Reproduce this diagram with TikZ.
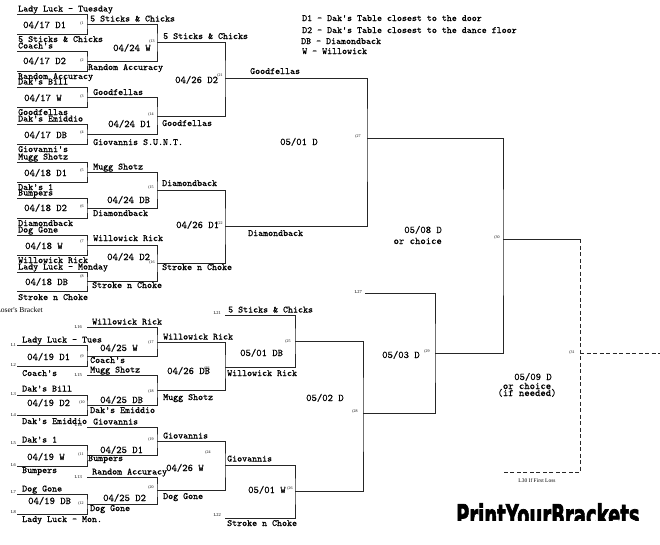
\documentclass[tikz,border=0pt]{standalone}
\usepackage{fontspec}
\setmonofont[FakeBold=0.3]{Latin Modern Mono}
\newfontfamily\smallserif{Liberation Serif}
\newfontfamily\logofont[BoldFont={DejaVu Sans Bold},BoldFeatures={FakeBold=2.5}]{DejaVu Sans}
\usetikzlibrary{calc}

\begin{document}
\begin{tikzpicture}[x=1pt,y=-1pt,
                    bline/.style={draw=black!85,line width=0.75pt},
                    dline/.style={bline,dash pattern=on 4pt off 2.5pt},
                    team/.style={anchor=base west,inner sep=0pt,font=\fontsize{9.5}{10}\ttfamily},
                    date/.style={anchor=base west,inner sep=0pt,font=\fontsize{10.2}{11}\ttfamily},
                    game/.style={inner sep=0pt,font=\fontsize{4}{4}\smallserif},
                    seed/.style={anchor=east,inner sep=0pt,font=\fontsize{4.5}{5}\smallserif}]

  \useasboundingbox (0,0) rectangle (660,544);
  \fill[white] (0,0) rectangle (660,544);
  \clip (0,0) rectangle (660,544);

  % winners bracket
  \coordinate (t1a) at (17,14);  \coordinate (t1b) at (17,34);  \coordinate (g1) at (87,24);
  \coordinate (t2a) at (17,51);  \coordinate (t2b) at (17,71);  \coordinate (g2) at (87,61);
  \coordinate (t3a) at (17,87);  \coordinate (t3b) at (17,107); \coordinate (g3) at (87,97);
  \coordinate (t4a) at (17,124); \coordinate (t4b) at (17,144); \coordinate (g4) at (87,134);
  \coordinate (t5a) at (17,162); \coordinate (t5b) at (17,182); \coordinate (g5) at (87,172);
  \coordinate (t6a) at (17,198); \coordinate (t6b) at (17,218); \coordinate (g6) at (87,208);
  \coordinate (t7a) at (17,235); \coordinate (t7b) at (17,255); \coordinate (g7) at (87,245);
  \coordinate (t8a) at (17,272); \coordinate (t8b) at (17,291); \coordinate (g8) at (87,281);
  \coordinate (g13) at (157,42);  \coordinate (g14) at (157,116);
  \coordinate (g15) at (157,190); \coordinate (g16) at (157,263);
  \coordinate (g21) at (225,78);  \coordinate (g22) at (225,226);
  \coordinate (g27) at (367,138);

  % losers bracket
  \coordinate (t9a) at (17,345);  \coordinate (t9b) at (17,366);  \coordinate (g9) at (87,356);
  \coordinate (t10a) at (17,395); \coordinate (t10b) at (17,415); \coordinate (g10) at (87,405);
  \coordinate (t11a) at (17,445); \coordinate (t11b) at (17,466); \coordinate (g11) at (87,455);
  \coordinate (t12a) at (17,494); \coordinate (t12b) at (17,514); \coordinate (g12) at (87,504);
  \coordinate (l16) at (87,327); \coordinate (l15) at (87,375);
  \coordinate (l14) at (87,427); \coordinate (l13) at (87,477);
  \coordinate (g17) at (157,342); \coordinate (g18) at (157,390);
  \coordinate (g19) at (157,441); \coordinate (g20) at (157,490);
  \coordinate (g23) at (225,367); \coordinate (g24) at (225,465);
  \coordinate (l21) at (225,315); \coordinate (l22) at (225,518);
  \coordinate (g25) at (295,341); \coordinate (g26) at (295,491);
  \coordinate (g28) at (363,413);
  \coordinate (l27) at (365,293);
  \coordinate (g29) at (435,353);
  \coordinate (g30) at (503,239);
  \coordinate (g31) at (580,353);
  \coordinate (l30) at (503,472);
  \coordinate (champ) at (660,353);

  \draw[bline] (t1a) -| (g1) |- (t1b);
  \draw[bline] (t2a) -| (g2) |- (t2b);
  \draw[bline] (t3a) -| (g3) |- (t3b);
  \draw[bline] (t4a) -| (g4) |- (t4b);
  \draw[bline] (t5a) -| (g5) |- (t5b);
  \draw[bline] (t6a) -| (g6) |- (t6b);
  \draw[bline] (t7a) -| (g7) |- (t7b);
  \draw[bline] (t8a) -| (g8) |- (t8b);
  \draw[bline] (g1) -| (g13) |- (g2);
  \draw[bline] (g3) -| (g14) |- (g4);
  \draw[bline] (g5) -| (g15) |- (g6);
  \draw[bline] (g7) -| (g16) |- (g8);
  \draw[bline] (g13) -| (g21) |- (g14);
  \draw[bline] (g15) -| (g22) |- (g16);
  \draw[bline] (g21) -| (g27) |- (g22);

  \draw[bline] (t9a) -| (g9) |- (t9b);
  \draw[bline] (t10a) -| (g10) |- (t10b);
  \draw[bline] (t11a) -| (g11) |- (t11b);
  \draw[bline] (t12a) -| (g12) |- (t12b);
  \draw[bline] (l16) -| (g17) |- (g9);
  \draw[bline] (l15) -| (g18) |- (g10);
  \draw[bline] (l14) -| (g19) |- (g11);
  \draw[bline] (l13) -| (g20) |- (g12);
  \draw[bline] (g17) -| (g23) |- (g18);
  \draw[bline] (g19) -| (g24) |- (g20);
  \draw[bline] (l21) -| (g25) |- (g23);
  \draw[bline] (g24) -| (g26) |- (l22);
  \draw[bline] (g25) -| (g28) |- (g26);
  \draw[bline] (l27) -| (g29) |- (g28);
  \draw[bline] (g27) -| (g30) |- (g29);
  \draw[bline] (g30) -- (g30 -| g31);
  \draw[dline] (g30 -| g31) |- (l30);
  \draw[dline] (g31) -- (champ);

  % legend
  \node[team] (leg1) at (302,21) {D1 - Dak's Table closest to the door};
  \node[team] (leg2) at (302,33) {D2 - Dak's Table closest to the dance floor};
  \node[team] (leg3) at (301,44) {DB - Diamondback};
  \node[team] (leg4) at (302,54) {W  - Willowick};

  % first round
  \node[team] (n1a) at (18,11.5) {Lady Luck - Tuesday};
  \node[team] (n1b) at (18,42) {5 Sticks \& Chicks};
  \node[team] (n2a) at (18,48.5) {Coach's};
  \node[team] (n2b) at (18,79) {Random Accuracy};
  \node[team] (n3a) at (18,84.5) {Dak's Bill};
  \node[team] (n3b) at (18,115) {Goodfellas};
  \node[team] (n4a) at (18,121.5) {Dak's Emiddio};
  \node[team] (n4b) at (18,152) {Giovanni's};
  \node[team] (n5a) at (18,159.5) {Mugg Shotz};
  \node[team] (n5b) at (18,190) {Dak's 1};
  \node[team] (n6a) at (18,195.5) {Bumpers};
  \node[team] (n6b) at (18,226) {Diamondback};
  \node[team] (n7a) at (18,232.5) {Dog Gone};
  \node[team] (n7b) at (18,263) {Willowick Rick};
  \node[team] (n8a) at (18,269.5) {Lady Luck - Monday};
  \node[team] (n8b) at (18,300) {Stroke n Choke};

  \node[date] (d1) at (23,28) {04/17 D1};
  \node[date] (d2) at (23,64) {04/17 D2};
  \node[date] (d3) at (24,101) {04/17 W};
  \node[date] (d4) at (24,138) {04/17 DB};
  \node[date] (d5) at (24,176) {04/18 D1};
  \node[date] (d6) at (24,211) {04/18 D2};
  \node[date] (d7) at (25,249) {04/18 W};
  \node[date] (d8) at (25,285) {04/18 DB};

  \node[game] (c1) at (82,24) {(1};
  \node[game] (c2) at (82,61) {(2};
  \node[game] (c3) at (82,97) {(3};
  \node[game] (c4) at (82,133) {(4};
  \node[game] (c5) at (82,171) {(5};
  \node[game] (c6) at (82,207) {(6};
  \node[game] (c7) at (82,242) {(7};
  \node[game] (c8) at (82,277) {(8};

  % second and third round
  \node[team] (n13a) at (90,21.5) {5 Sticks \& Chicks};
  \node[team] (n13b) at (88,70) {Random Accuracy};
  \node[team] (n14a) at (93,95) {Goodfellas};
  \node[team] (n14b) at (93,145) {Giovannis S.U.N.T.};
  \node[team] (n15a) at (93,169.5) {Mugg Shotz};
  \node[team] (n15b) at (93,216) {Diamondback};
  \node[team] (n16a) at (93,241) {Willowick Rick};
  \node[team] (n16b) at (92,288) {Stroke n Choke};
  \node[date] (d13) at (113,51) {04/24 W};
  \node[date] (d14) at (108,127) {04/24 D1};
  \node[date] (d15) at (107,203) {04/24 DB};
  \node[date] (d16) at (107,260) {04/24 D2};
  \node[game] (c13) at (152,42) {(13};
  \node[game] (c14) at (151,115) {(14};
  \node[game] (c15) at (151,188) {(15};
  \node[game] (c16) at (152,263) {(16};

  \node[team] (n21a) at (163,39) {5 Sticks \& Chicks};
  \node[team] (n21b) at (162,126) {Goodfellas};
  \node[team] (n22a) at (162,186) {Diamondback};
  \node[team] (n22b) at (162,270) {Stroke n Choke};
  \node[date] (d21) at (175,83) {04/26 D2};
  \node[date] (d22) at (176,228) {04/26 D1};
  \node[game] (c21) at (220,76) {(21};
  \node[game] (c22) at (220,224) {(22};

  \node[team] (n27a) at (250,74) {Goodfellas};
  \node[team] (n27b) at (248,236) {Diamondback};
  \node[date] (d27) at (280,145) {05/01 D};
  \node[game] (c27) at (358,137) {(27};

  \node[date,anchor=base east] (d30a) at (442,233) {05/08 D};
  \node[date,anchor=base east] (d30b) at (442,244) {or choice};
  \node[game] (c30) at (497,238) {(30};

  \node[date,anchor=base] (d31a) at (533,380) {05/09 D};
  \node[date,anchor=base] (d31b) at (527,389) {or choice};
  \node[date,anchor=base] (d31c) at (527,396) {(if needed)};
  \node[game] (c31) at (572,353) {(31};
  \node[inner sep=0pt,font=\fontsize{5.5}{6}\smallserif] (l30t) at (537,481) {L30 If First Loss};

  % losers bracket
  \node[anchor=base east,inner sep=0pt,font=\fontsize{7.5}{8}\smallserif] (lbr) at (43,312) {Loser's Bracket};

  \node[seed] (s1) at (16,345) {L1};
  \node[seed] (s2) at (16,365) {L2};
  \node[seed] (s3) at (16,394) {L3};
  \node[seed] (s4) at (16,415) {L4};
  \node[seed] (s5) at (16,443) {L5};
  \node[seed] (s6) at (16,465) {L6};
  \node[seed] (s7) at (16,492) {L7};
  \node[seed] (s8) at (16,512) {L8};
  \node[seed] (s16) at (82,327) {L16};
  \node[seed] (s15) at (82,375) {L15};
  \node[seed] (s14) at (82,425) {L14};
  \node[seed] (s13) at (82,477) {L13};
  \node[seed] (s21) at (221,313) {L21};
  \node[seed] (s22) at (221,515) {L22};
  \node[seed] (s27) at (362,292) {L27};

  \node[team] (n9a) at (22,342.5) {Lady Luck - Tues};
  \node[team] (n9b) at (22,376) {Coach's};
  \node[team] (n10a) at (22,391.5) {Dak's Bill};
  \node[team] (n10b) at (22,424) {Dak's Emiddio};
  \node[team] (n11a) at (22,442.5) {Dak's 1};
  \node[team] (n11b) at (22,473) {Bumpers};
  \node[team] (n12a) at (22,491.5) {Dog Gone};
  \node[team] (n12b) at (22,522) {Lady Luck - Mon.};
  \node[date] (d9) at (27,360) {04/19 D1};
  \node[date] (d10) at (27,406) {04/19 D2};
  \node[date] (d11) at (27,460) {04/19 W};
  \node[date] (d12) at (28,504) {04/19 DB};
  \node[game] (c9) at (82,357) {(9};
  \node[game] (c10) at (82,403) {(10};
  \node[game] (c11) at (81,455) {(11};
  \node[game] (c12) at (81,504) {(12};

  \node[team] (n17a) at (92,324.5) {Willowick Rick};
  \node[team] (n17b) at (90,363) {Coach's};
  \node[team] (n18a) at (90,372.5) {Mugg Shotz};
  \node[team] (n18b) at (90,413) {Dak's Emiddio};
  \node[team] (n19a) at (93,424.5) {Giovannis};
  \node[team] (n19b) at (88,461) {Bumpers};
  \node[team] (n20a) at (92,474.5) {Random Accuracy};
  \node[team] (n20b) at (90,511) {Dog Gone};
  \node[date] (d17) at (100,351) {04/25 W};
  \node[date] (d18) at (100,403) {04/25 DB};
  \node[date] (d19) at (100,453) {04/25 D1};
  \node[date] (d20) at (103,501) {04/25 D2};
  \node[game] (c17) at (151,343) {(17};
  \node[game] (c18) at (151,392) {(18};
  \node[game] (c19) at (151,440) {(19};
  \node[game] (c20) at (151,488) {(20};

  \node[team] (n23a) at (163,339.5) {Willowick Rick};
  \node[team] (n23b) at (163,400) {Mugg Shotz};
  \node[team] (n24a) at (163,438.5) {Giovannis};
  \node[team] (n24b) at (163,499) {Dog Gone};
  \node[date] (d23) at (167,374) {04/26 DB};
  \node[date] (d24) at (166,471) {04/26 W};
  \node[game] (c23) at (207,369) {(23};
  \node[game] (c24) at (208,453) {(24};

  \node[team] (n25a) at (228,312.5) {5 Sticks \& Chicks};
  \node[team] (n25b) at (227,376) {Willowick Rick};
  \node[team] (n26a) at (227,461.5) {Giovannis};
  \node[team] (n26b) at (227,526) {Stroke n Choke};
  \node[date] (d25) at (240,356) {05/01 DB};
  \node[date] (d26) at (248,493) {05/01 W};
  \node[game] (c25) at (288,342) {(25};
  \node[game] (c26) at (290,489) {(26};

  \node[date] (d28) at (306,401) {05/02 D};
  \node[game] (c28) at (355,412) {(28};
  \node[date] (d29) at (382,358) {05/03 D};
  \node[game] (c29) at (427,352) {(29};

  % logo, cut off at the bottom
  \begin{scope}
    \clip (440,500) rectangle (660,520);
    \node[anchor=north west,inner sep=0pt,xscale=0.6,font=\fontsize{30}{30}\logofont\bfseries] (logo) at (456,503) {PrintYourBrackets};
  \end{scope}

\end{tikzpicture}
\end{document}
